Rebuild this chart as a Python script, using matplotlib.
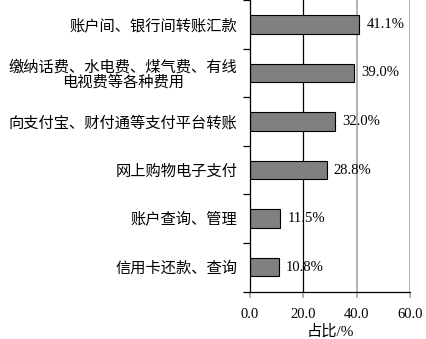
import numpy as np
import matplotlib.pyplot as plt

plt.rcParams['font.family'] = ['Liberation Serif', 'Noto Sans CJK SC']

categories = ["账户间、银行间转账汇款",
              "缴纳话费、水电费、煤气费、有线\n电视费等各种费用",
              "向支付宝、财付通等支付平台转账",
              "网上购物电子支付",
              "账户查询、管理",
              "信用卡还款、查询"]
values = [41.1, 39.0, 32.0, 28.8, 11.5, 10.8]
xticks = [0, 20, 40, 60]

fig = plt.figure(figsize=(4.27, 3.39), dpi=100)
ax = fig.add_axes([0.585, 0.14, 0.375, 0.86])

y = np.arange(len(categories))
# grid lines drawn first so bars sit on top
ax.axvline(20, color='black', lw=0.9, zorder=0)
ax.axvline(40, color='#a6a6a6', lw=1.2, zorder=0)
ax.axvline(60, color='#a6a6a6', lw=1.2, zorder=0)

ax.barh(y, values, height=0.38, color='#808080', edgecolor='black', lw=0.8, zorder=2)
for yi, v in zip(y, values):
    ax.annotate(f"{v:.1f}%", (v, yi), xytext=(5, 0), textcoords='offset points',
                va='center', ha='left', fontsize=10.5)

ax.set_ylim(len(categories) - 0.5, -0.5)
ax.set_xlim(0, 60)
ax.set_xticks(xticks)
ax.set_xticklabels([f"{t:.1f}" for t in xticks], fontsize=10.5)
ax.tick_params(axis='x', length=4, color='#a6a6a6', width=1.2, pad=8)

ax.set_yticks(y)
ax.set_yticklabels(categories, fontsize=11, multialignment='center', linespacing=1.08)
ax.set_yticks(np.arange(len(categories) + 1) - 0.5, minor=True)
ax.tick_params(axis='y', which='major', length=0, pad=9)
ax.tick_params(axis='y', which='minor', length=5, width=0.9, direction='out')

for s in ['top', 'right']:
    ax.spines[s].set_visible(False)
ax.spines['left'].set_linewidth(0.9)
ax.spines['bottom'].set_linewidth(0.9)
ax.spines['bottom'].set_bounds(0, 60)

ax.set_xlabel("占比/%", fontsize=11, labelpad=2)

fig.savefig("out.png", dpi=100)
